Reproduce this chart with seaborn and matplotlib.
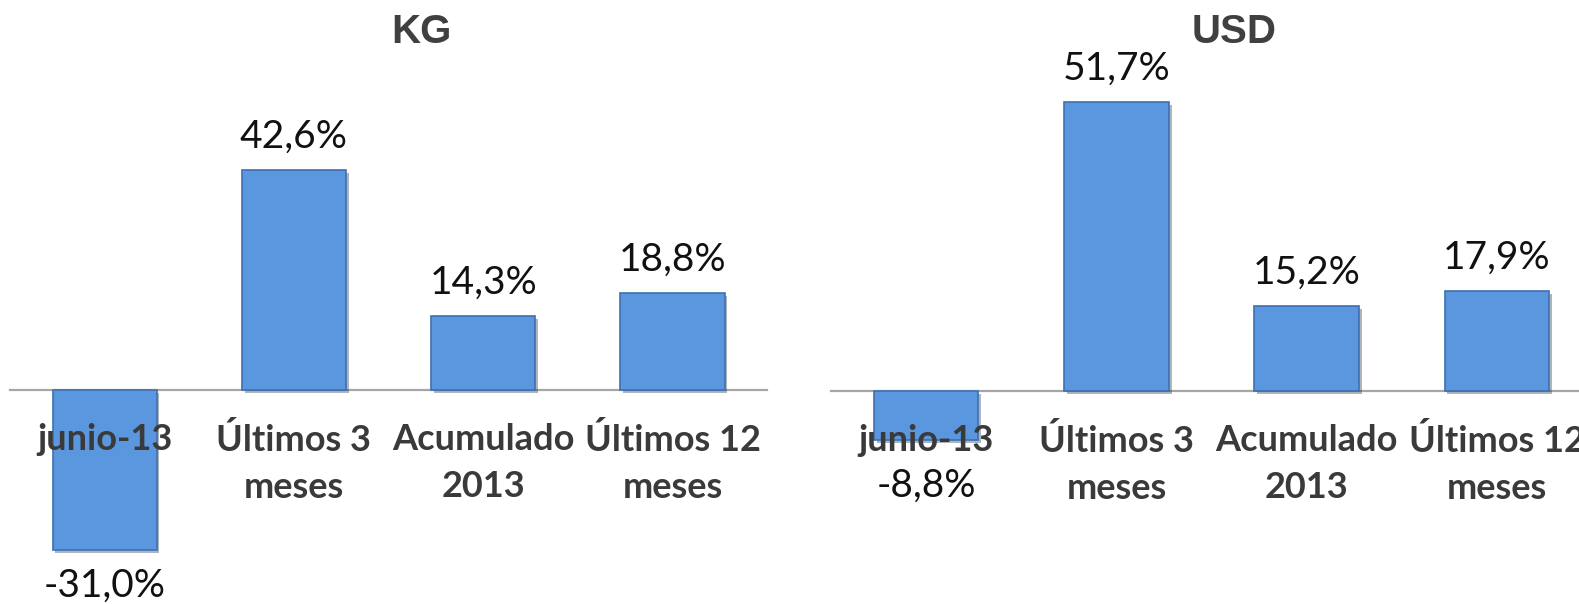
import seaborn as sns
import matplotlib.pyplot as plt
import matplotlib.patheffects as pe
import pandas as pd

categorias = ["junio-13", "Últimos 3\nmeses", "Acumulado\n2013", "Últimos 12\nmeses"]
kg_valores = [-31.0, 42.6, 14.3, 18.8]
usd_valores = [-8.8, 51.7, 15.2, 17.9]
titulos = ["KG", "USD"]

sns.set_theme(style="white")
plt.rcParams["font.family"] = ["Lato", "DejaVu Sans"]

W, H = 1579, 604
fig = plt.figure(figsize=(W / 100, H / 100), dpi=100)

# axes placed in pixel terms: (values, left, zero line y, px per category, px per %, ylim, title x, neg label pad)
paneles = [
    (kg_valores, 10, 390, 189.3, 5.16, (-40, 60), 421, 13),
    (usd_valores, 831, 391, 190.3, 5.59, (-30, 60), 1234, 20),
]

bar_color = "#5B97DE"
for (vals, x0, y0, paso, escala, ylim, tx, npad), titulo in zip(paneles, titulos):
    ancho = 4 * paso
    alto = (ylim[1] - ylim[0]) * escala
    top = y0 - ylim[1] * escala
    ax = fig.add_axes([x0 / W, 1 - (top + alto) / H, ancho / W, alto / H])
    df = pd.DataFrame({"cat": categorias, "val": vals})
    sns.barplot(data=df, x="cat", y="val", ax=ax, color=bar_color, width=0.55,
                saturation=1, edgecolor="#3E70B2", linewidth=1.2)
    for p in ax.patches:
        p.set_path_effects([pe.SimplePatchShadow(offset=(2, -2), alpha=0.35), pe.Normal()])
    ax.set_axisbelow(False)
    ax.set_ylim(*ylim)
    ax.set_xlim(-0.5, 3.5)
    ax.set_xlabel("")
    ax.set_ylabel("")
    ax.set_yticks([])
    for s in ["top", "left", "right"]:
        ax.spines[s].set_visible(False)
    ax.spines["bottom"].set_position(("data", 0))
    ax.spines["bottom"].set_color("#A6A6A6")
    ax.spines["bottom"].set_linewidth(1.6)
    ax.spines["bottom"].set_zorder(0.5)
    ax.tick_params(axis="x", length=0, pad=24)
    for t in ax.get_xticklabels():
        t.set_fontsize(26)
        t.set_fontweight("bold")
        t.set_color("#3A3A3A")
        t.set_linespacing(1.5)
    etiquetas = [f"{v:.1f}%".replace(".", ",") for v in vals]
    pos = [e if v >= 0 else "" for e, v in zip(etiquetas, vals)]
    neg = [e if v < 0 else "" for e, v in zip(etiquetas, vals)]
    ax.bar_label(ax.containers[0], labels=pos, padding=11, fontsize=28, color="#111111")
    ax.bar_label(ax.containers[0], labels=neg, padding=npad, fontsize=28, color="#111111")
    fig.text(tx / W, 1 - 32 / H, titulo, ha="center", va="center",
             fontsize=29, fontweight="bold", color="#404040",
             family=["Liberation Sans", "DejaVu Sans"])

fig.savefig("out.png", dpi=100)
